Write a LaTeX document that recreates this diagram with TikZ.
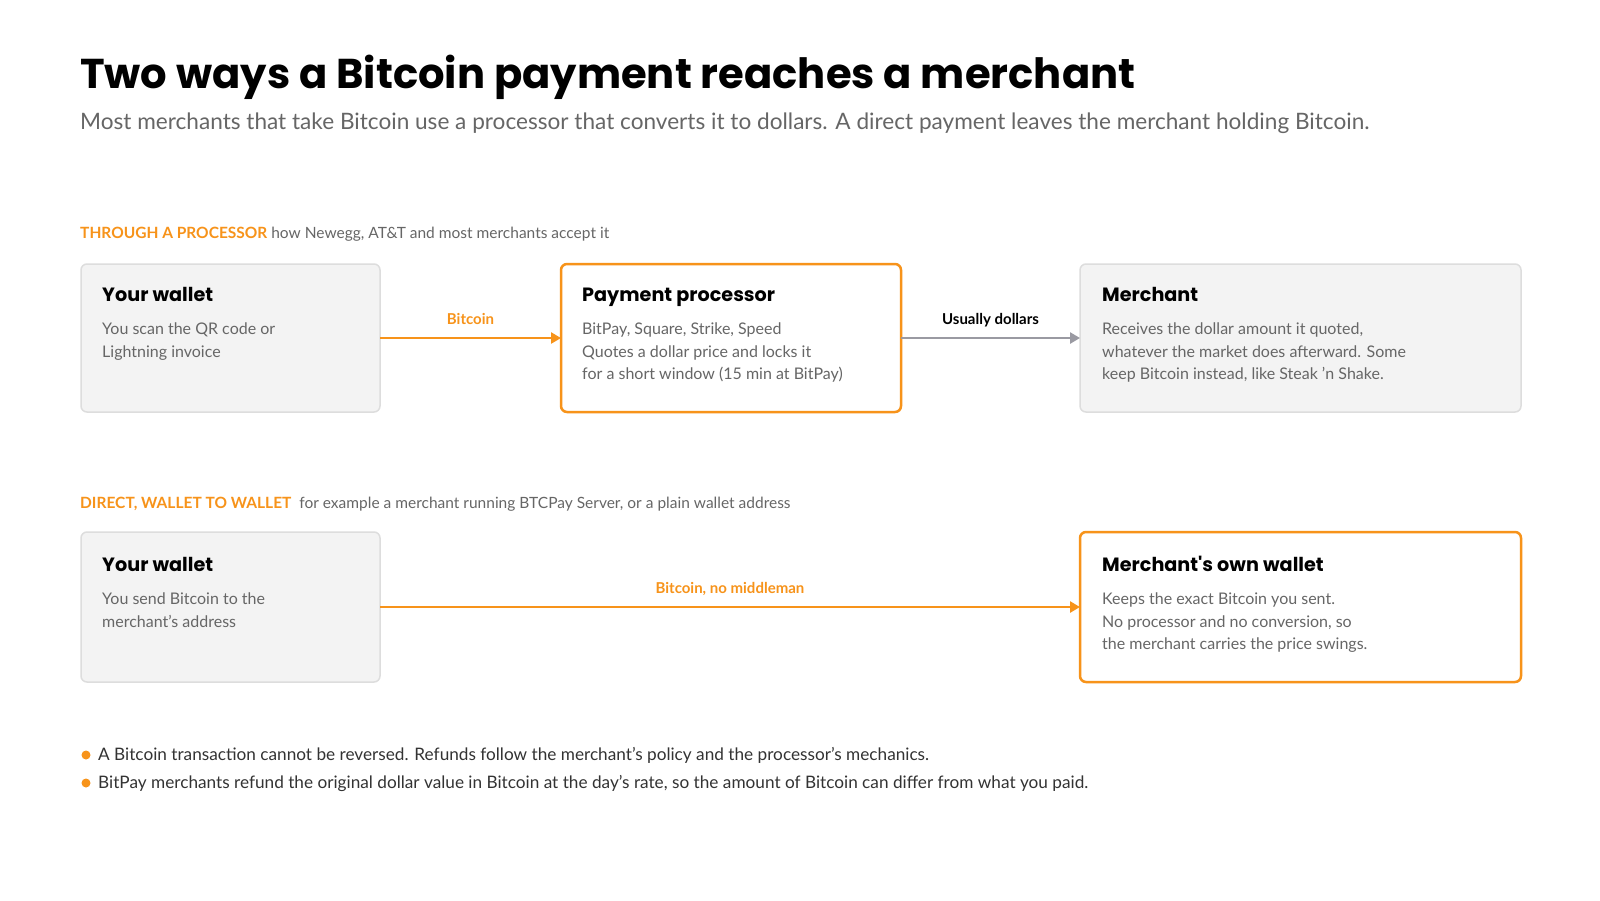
\documentclass[tikz,border=0pt]{standalone}
\usepackage{fontspec}
\setmainfont{Lato}
\newfontfamily\pop{Poppins}
\usetikzlibrary{arrows.meta}
\definecolor{org}{HTML}{F7931A}
\definecolor{gbox}{HTML}{F3F3F3}
\definecolor{gline}{HTML}{DDDDDD}
\definecolor{txt}{HTML}{666666}
\definecolor{garr}{HTML}{9A9AA2}
\tikzset{
 box/.style={draw=gline,line width=1.5pt,fill=gbox,rounded corners=6pt},
 obox/.style={draw=org,line width=2.5pt,fill=white,rounded corners=6pt},
 ttl/.style={anchor=base west,inner sep=0pt,font=\pop\fontsize{19.2}{24}\selectfont\bfseries,text=black},
 body/.style={anchor=north west,align=left,font=\fontsize{16}{22.5}\selectfont,text=txt,inner sep=0pt},
 arr/.style={line width=2.8pt,-{Triangle[length=10pt,width=11pt]}},
 alab/.style={anchor=base,font=\fontsize{15}{16}\selectfont\bfseries},
}
\begin{document}
\begin{tikzpicture}[x=1pt,y=-1pt]
\useasboundingbox[fill=white] (0,0) rectangle (1600,900);
\node[anchor=base west,inner sep=0pt,font=\pop\fontsize{41.7}{46}\selectfont\bfseries] (t) at (80,88) {Two ways a Bitcoin payment reaches a merchant};
\node[anchor=base west,inner sep=0pt,font=\fontsize{22.6}{26}\selectfont,text=txt] (s) at (80,129) {Most merchants that take Bitcoin use a processor that converts it to dollars. A direct payment leaves the merchant holding Bitcoin.};
\node[anchor=base west,inner sep=0pt,font=\fontsize{15.5}{16}\selectfont] (l1) at (80,238) {\textcolor{org}{\bfseries THROUGH A PROCESSOR}\ \textcolor{txt}{how Newegg, AT\&T and most merchants accept it}};
\node[anchor=base west,inner sep=0pt,font=\fontsize{15.5}{16}\selectfont] (l2) at (80,508) {\textcolor{org}{\bfseries DIRECT, WALLET TO WALLET}\ \ \textcolor{txt}{for example a merchant running BTCPay Server, or a plain wallet address}};
% row 1
\draw[box] (81,264) rectangle (380,412); \coordinate (w1e) at (380,338);
\node[ttl] (a1) at (102,301) {Your wallet};
\node[body] (a2) at (102,323) {You scan the QR code or\\Lightning invoice};
\draw[obox] (561,264) rectangle (901,412); \coordinate (pw) at (561,338); \coordinate (pe) at (901,338);
\node[ttl] (b1) at (582,301) {Payment processor};
\node[body] (b2) at (582,323) {BitPay, Square, Strike, Speed\\Quotes a dollar price and locks it\\for a short window (15 min at BitPay)};
\draw[box] (1080,264) rectangle (1521,412); \coordinate (mw) at (1080,338);
\node[ttl] (c1) at (1102,301) {Merchant};
\node[body] (c2) at (1102,323) {Receives the dollar amount it quoted,\\whatever the market does afterward. Some\\keep Bitcoin instead, like Steak 'n Shake.};
\draw[arr,draw=org,color=org] (w1e) -- (pw) node[midway,alab,text=org,yshift=14pt] {Bitcoin};
\draw[arr,draw=garr,color=garr] (pe) -- (mw) node[midway,alab,text=black,yshift=14pt] {Usually dollars};
% row 2
\draw[box] (81,532) rectangle (380,682); \coordinate (w2e) at (380,607);
\node[ttl] (d1) at (102,571) {Your wallet};
\node[body] (d2) at (102,593) {You send Bitcoin to the\\merchant's address};
\draw[obox] (1080,532) rectangle (1521,682); \coordinate (ow) at (1080,607);
\node[ttl] (e1) at (1102,571) {Merchant's own wallet};
\node[body] (e2) at (1102,593) {Keeps the exact Bitcoin you sent.\\No processor and no conversion, so\\the merchant carries the price swings.};
\draw[arr,draw=org,color=org] (w2e) -- (ow) node[midway,alab,text=org,yshift=14pt] {Bitcoin, no middleman};
% bullets
\fill[org] (86,755) circle (4.5pt);
\fill[org] (86,783) circle (4.5pt);
\node[anchor=base west,inner sep=0pt,font=\fontsize{17.2}{20}\selectfont,text=black!80] (n1) at (98,760) {A Bitcoin transaction cannot be reversed. Refunds follow the merchant's policy and the processor's mechanics.};
\node[anchor=base west,inner sep=0pt,font=\fontsize{17.2}{20}\selectfont,text=black!80] (n2) at (98,788) {BitPay merchants refund the original dollar value in Bitcoin at the day's rate, so the amount of Bitcoin can differ from what you paid.};
\end{tikzpicture}
\end{document}
